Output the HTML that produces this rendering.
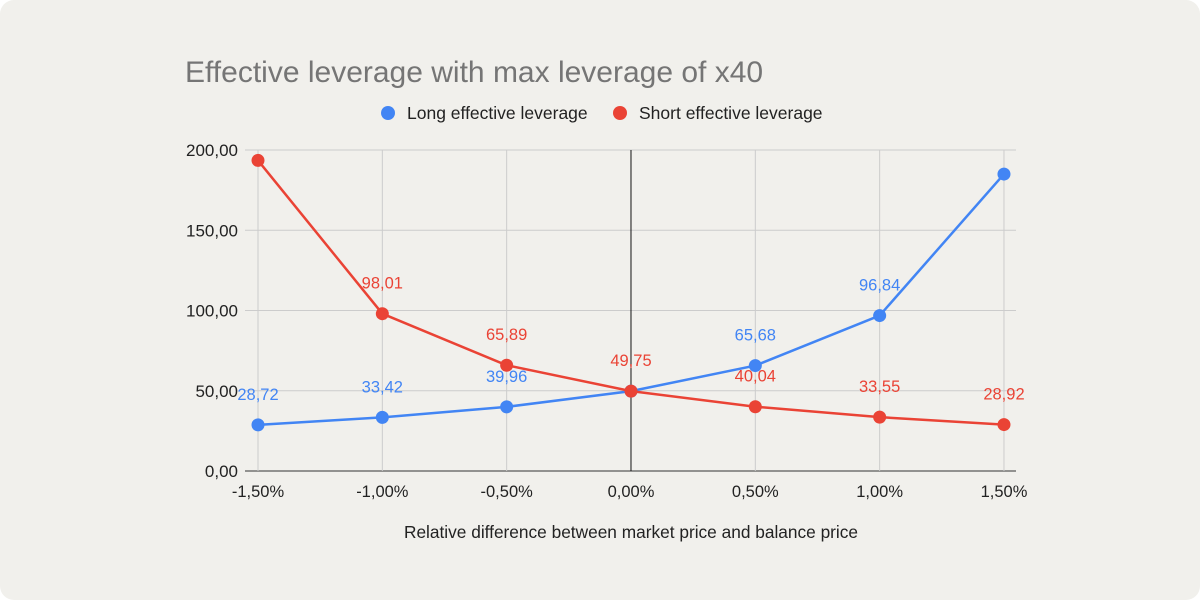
<!DOCTYPE html>
<html><head><meta charset="utf-8">
<style>
html,body{margin:0;padding:0;background:#fff;}
#card{width:1200px;height:600px;background:#f1f0ec;border-radius:14px;position:relative;overflow:hidden;font-family:"Liberation Sans",Arial,sans-serif;}
svg{position:absolute;left:0;top:0;}
</style></head><body>
<div id="card">
<svg id="chart" width="1200" height="600"></svg>
</div>
<script>
const categories=["-1,50%","-1,00%","-0,50%","0,00%","0,50%","1,00%","1,50%"];
const longValues=[28.72,33.42,39.96,49.75,65.68,96.84,185];
const shortValues=[193.5,98.01,65.89,49.75,40.04,33.55,28.92];
const longLabels=["28,72","33,42","39,96","","65,68","96,84",""];
const shortLabels=["","98,01","65,89","49,75","40,04","33,55","28,92"];
const yTicks=[0,50,100,150,200];
const yTickLabels=["0,00","50,00","100,00","150,00","200,00"];

const NS="http://www.w3.org/2000/svg";
const svg=document.getElementById('chart');
function el(t,a,txt){const e=document.createElementNS(NS,t);for(const k in a)e.setAttribute(k,a[k]);if(txt!==undefined)e.textContent=txt;svg.appendChild(e);return e;}
const x0=258,xStep=124.33,yBase=471,yTop=150;
const xs=i=>x0+i*xStep;
const ys=v=>yBase-(v/200)*(yBase-yTop);
const BLUE="#4285f4",RED="#ea4335";

let t=el('text',{x:185,y:82,'font-size':30,fill:'#757575'},'Effective leverage with max leverage of x40');



let c=el('circle',{cx:388,cy:113,r:7,fill:BLUE});


t=el('text',{x:407,y:119,'font-size':17.5,fill:'#222'},'Long effective leverage');


c=el('circle',{cx:620,cy:113,r:7,fill:RED});


t=el('text',{x:639,y:119,'font-size':17.5,fill:'#222'},'Short effective leverage');



yTicks.forEach((v,i)=>{
  const l=el('line',{x1:245,x2:1016,y1:ys(v),y2:ys(v),stroke:i===0?'#333':'#ccc','stroke-width':1});
  
  
  const tt=el('text',{x:238,y:ys(v)+6,'font-size':17,fill:'#222','text-anchor':'end'},yTickLabels[i]);
  
  
});
categories.forEach((cat,i)=>{
  const isZero=i===3;
  const l=el('line',{x1:xs(i),x2:xs(i),y1:yTop,y2:yBase,stroke:isZero?'#111':'#ccc','stroke-width':1});
  
  
  const tt=el('text',{x:xs(i),y:497,'font-size':16.5,fill:'#222','text-anchor':'middle'},cat);
  
  
});
t=el('text',{x:631,y:538,'font-size':17.3,fill:'#222','text-anchor':'middle'},'Relative difference between market price and balance price');



function series(vals,labels,color,name){
  const p=el('polyline',{points:vals.map((v,i)=>xs(i)+','+ys(v)).join(' '),fill:'none',stroke:color,'stroke-width':2.5});
  
  
  vals.forEach((v,i)=>{
    const d=el('circle',{cx:xs(i),cy:ys(v),r:6.5,fill:color});
    
    
    if(labels[i]){
      const tl=el('text',{x:xs(i),y:ys(v)-25,'font-size':16.5,fill:color,'text-anchor':'middle'},labels[i]);
      
      
    }
  });
}
series(longValues,longLabels,BLUE,'long');
series(shortValues,shortLabels,RED,'short');
</script>
</body></html>
